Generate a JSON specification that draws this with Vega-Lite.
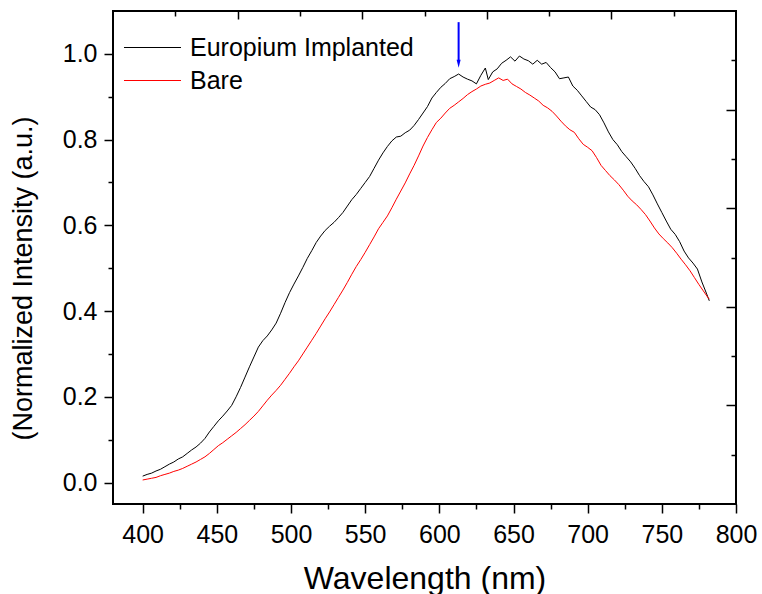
{
  "$schema": "https://vega.github.io/schema/vega-lite/v6.json",
  "width": 623,
  "height": 493,
  "autosize": "none",
  "padding": {"left": 113, "top": 11, "right": 26, "bottom": 90},
  "background": "white",
  "config": {
    "view": {"stroke": "black", "strokeWidth": 2},
    "font": "Liberation Sans",
    "axis": {"grid": false, "domain": false, "tickColor": "black", "tickWidth": 1.5, "labelColor": "black", "titleColor": "black", "labelFont": "Liberation Sans", "titleFont": "Liberation Sans", "titleFontWeight": "normal"}
  },
  "datasets": {
    "spectra": [
      {"series":"Europium Implanted","wavelength":400,"intensity":0.015},{"series":"Europium Implanted","wavelength":403,"intensity":0.019},{"series":"Europium Implanted","wavelength":406,"intensity":0.022},{"series":"Europium Implanted","wavelength":409,"intensity":0.027},{"series":"Europium Implanted","wavelength":412,"intensity":0.031},{"series":"Europium Implanted","wavelength":415,"intensity":0.037},{"series":"Europium Implanted","wavelength":418,"intensity":0.043},{"series":"Europium Implanted","wavelength":421,"intensity":0.048},{"series":"Europium Implanted","wavelength":424,"intensity":0.055},{"series":"Europium Implanted","wavelength":427,"intensity":0.060},{"series":"Europium Implanted","wavelength":430,"intensity":0.068},{"series":"Europium Implanted","wavelength":433,"intensity":0.076},{"series":"Europium Implanted","wavelength":436,"intensity":0.083},{"series":"Europium Implanted","wavelength":439,"intensity":0.092},{"series":"Europium Implanted","wavelength":442,"intensity":0.103},{"series":"Europium Implanted","wavelength":445,"intensity":0.118},{"series":"Europium Implanted","wavelength":448,"intensity":0.131},{"series":"Europium Implanted","wavelength":451,"intensity":0.144},{"series":"Europium Implanted","wavelength":454,"intensity":0.155},{"series":"Europium Implanted","wavelength":457,"intensity":0.167},{"series":"Europium Implanted","wavelength":460,"intensity":0.180},{"series":"Europium Implanted","wavelength":463,"intensity":0.200},{"series":"Europium Implanted","wavelength":466,"intensity":0.222},{"series":"Europium Implanted","wavelength":469,"intensity":0.246},{"series":"Europium Implanted","wavelength":472,"intensity":0.270},{"series":"Europium Implanted","wavelength":475,"intensity":0.293},{"series":"Europium Implanted","wavelength":478,"intensity":0.316},{"series":"Europium Implanted","wavelength":481,"intensity":0.331},{"series":"Europium Implanted","wavelength":484,"intensity":0.342},{"series":"Europium Implanted","wavelength":487,"intensity":0.356},{"series":"Europium Implanted","wavelength":490,"intensity":0.372},{"series":"Europium Implanted","wavelength":493,"intensity":0.395},{"series":"Europium Implanted","wavelength":496,"intensity":0.420},{"series":"Europium Implanted","wavelength":499,"intensity":0.443},{"series":"Europium Implanted","wavelength":502,"intensity":0.463},{"series":"Europium Implanted","wavelength":505,"intensity":0.482},{"series":"Europium Implanted","wavelength":508,"intensity":0.502},{"series":"Europium Implanted","wavelength":511,"intensity":0.523},{"series":"Europium Implanted","wavelength":514,"intensity":0.541},{"series":"Europium Implanted","wavelength":517,"intensity":0.560},{"series":"Europium Implanted","wavelength":520,"intensity":0.575},{"series":"Europium Implanted","wavelength":523,"intensity":0.588},{"series":"Europium Implanted","wavelength":526,"intensity":0.598},{"series":"Europium Implanted","wavelength":529,"intensity":0.607},{"series":"Europium Implanted","wavelength":532,"intensity":0.618},{"series":"Europium Implanted","wavelength":535,"intensity":0.630},{"series":"Europium Implanted","wavelength":538,"intensity":0.645},{"series":"Europium Implanted","wavelength":541,"intensity":0.660},{"series":"Europium Implanted","wavelength":544,"intensity":0.672},{"series":"Europium Implanted","wavelength":547,"intensity":0.686},{"series":"Europium Implanted","wavelength":550,"intensity":0.700},{"series":"Europium Implanted","wavelength":553,"intensity":0.714},{"series":"Europium Implanted","wavelength":556,"intensity":0.733},{"series":"Europium Implanted","wavelength":559,"intensity":0.752},{"series":"Europium Implanted","wavelength":562,"intensity":0.769},{"series":"Europium Implanted","wavelength":565,"intensity":0.784},{"series":"Europium Implanted","wavelength":568,"intensity":0.797},{"series":"Europium Implanted","wavelength":571,"intensity":0.806},{"series":"Europium Implanted","wavelength":574,"intensity":0.808},{"series":"Europium Implanted","wavelength":577,"intensity":0.816},{"series":"Europium Implanted","wavelength":580,"intensity":0.822},{"series":"Europium Implanted","wavelength":583,"intensity":0.833},{"series":"Europium Implanted","wavelength":586,"intensity":0.847},{"series":"Europium Implanted","wavelength":589,"intensity":0.862},{"series":"Europium Implanted","wavelength":592,"intensity":0.877},{"series":"Europium Implanted","wavelength":595,"intensity":0.897},{"series":"Europium Implanted","wavelength":598,"intensity":0.910},{"series":"Europium Implanted","wavelength":601,"intensity":0.922},{"series":"Europium Implanted","wavelength":604,"intensity":0.931},{"series":"Europium Implanted","wavelength":607,"intensity":0.942},{"series":"Europium Implanted","wavelength":610,"intensity":0.947},{"series":"Europium Implanted","wavelength":613,"intensity":0.953},{"series":"Europium Implanted","wavelength":616,"intensity":0.946},{"series":"Europium Implanted","wavelength":619,"intensity":0.941},{"series":"Europium Implanted","wavelength":622,"intensity":0.937},{"series":"Europium Implanted","wavelength":625,"intensity":0.930},{"series":"Europium Implanted","wavelength":628,"intensity":0.950},{"series":"Europium Implanted","wavelength":631,"intensity":0.967},{"series":"Europium Implanted","wavelength":633,"intensity":0.940},{"series":"Europium Implanted","wavelength":636,"intensity":0.958},{"series":"Europium Implanted","wavelength":639,"intensity":0.965},{"series":"Europium Implanted","wavelength":642,"intensity":0.978},{"series":"Europium Implanted","wavelength":645,"intensity":0.985},{"series":"Europium Implanted","wavelength":648,"intensity":0.993},{"series":"Europium Implanted","wavelength":651,"intensity":0.983},{"series":"Europium Implanted","wavelength":654,"intensity":0.995},{"series":"Europium Implanted","wavelength":657,"intensity":0.988},{"series":"Europium Implanted","wavelength":660,"intensity":0.984},{"series":"Europium Implanted","wavelength":663,"intensity":0.976},{"series":"Europium Implanted","wavelength":666,"intensity":0.985},{"series":"Europium Implanted","wavelength":669,"intensity":0.976},{"series":"Europium Implanted","wavelength":672,"intensity":0.980},{"series":"Europium Implanted","wavelength":675,"intensity":0.968},{"series":"Europium Implanted","wavelength":678,"intensity":0.958},{"series":"Europium Implanted","wavelength":681,"intensity":0.942},{"series":"Europium Implanted","wavelength":684,"intensity":0.944},{"series":"Europium Implanted","wavelength":687,"intensity":0.946},{"series":"Europium Implanted","wavelength":690,"intensity":0.925},{"series":"Europium Implanted","wavelength":693,"intensity":0.915},{"series":"Europium Implanted","wavelength":696,"intensity":0.902},{"series":"Europium Implanted","wavelength":699,"intensity":0.889},{"series":"Europium Implanted","wavelength":702,"intensity":0.876},{"series":"Europium Implanted","wavelength":705,"intensity":0.870},{"series":"Europium Implanted","wavelength":708,"intensity":0.858},{"series":"Europium Implanted","wavelength":711,"intensity":0.839},{"series":"Europium Implanted","wavelength":714,"intensity":0.818},{"series":"Europium Implanted","wavelength":717,"intensity":0.800},{"series":"Europium Implanted","wavelength":720,"intensity":0.788},{"series":"Europium Implanted","wavelength":723,"intensity":0.772},{"series":"Europium Implanted","wavelength":726,"intensity":0.760},{"series":"Europium Implanted","wavelength":729,"intensity":0.748},{"series":"Europium Implanted","wavelength":732,"intensity":0.733},{"series":"Europium Implanted","wavelength":735,"intensity":0.716},{"series":"Europium Implanted","wavelength":738,"intensity":0.702},{"series":"Europium Implanted","wavelength":741,"intensity":0.690},{"series":"Europium Implanted","wavelength":744,"intensity":0.671},{"series":"Europium Implanted","wavelength":747,"intensity":0.650},{"series":"Europium Implanted","wavelength":750,"intensity":0.630},{"series":"Europium Implanted","wavelength":753,"intensity":0.610},{"series":"Europium Implanted","wavelength":756,"intensity":0.591},{"series":"Europium Implanted","wavelength":759,"intensity":0.579},{"series":"Europium Implanted","wavelength":762,"intensity":0.562},{"series":"Europium Implanted","wavelength":765,"intensity":0.540},{"series":"Europium Implanted","wavelength":768,"intensity":0.524},{"series":"Europium Implanted","wavelength":771,"intensity":0.512},{"series":"Europium Implanted","wavelength":774,"intensity":0.498},{"series":"Europium Implanted","wavelength":777,"intensity":0.468},{"series":"Europium Implanted","wavelength":780,"intensity":0.442},{"series":"Europium Implanted","wavelength":782,"intensity":0.424},
      {"series":"Bare","wavelength":400,"intensity":0.006},{"series":"Bare","wavelength":403,"intensity":0.008},{"series":"Bare","wavelength":406,"intensity":0.010},{"series":"Bare","wavelength":409,"intensity":0.012},{"series":"Bare","wavelength":412,"intensity":0.016},{"series":"Bare","wavelength":415,"intensity":0.019},{"series":"Bare","wavelength":418,"intensity":0.022},{"series":"Bare","wavelength":421,"intensity":0.026},{"series":"Bare","wavelength":424,"intensity":0.029},{"series":"Bare","wavelength":427,"intensity":0.033},{"series":"Bare","wavelength":430,"intensity":0.038},{"series":"Bare","wavelength":433,"intensity":0.043},{"series":"Bare","wavelength":436,"intensity":0.048},{"series":"Bare","wavelength":439,"intensity":0.054},{"series":"Bare","wavelength":442,"intensity":0.060},{"series":"Bare","wavelength":445,"intensity":0.068},{"series":"Bare","wavelength":448,"intensity":0.077},{"series":"Bare","wavelength":451,"intensity":0.086},{"series":"Bare","wavelength":454,"intensity":0.093},{"series":"Bare","wavelength":457,"intensity":0.101},{"series":"Bare","wavelength":460,"intensity":0.109},{"series":"Bare","wavelength":463,"intensity":0.117},{"series":"Bare","wavelength":466,"intensity":0.126},{"series":"Bare","wavelength":469,"intensity":0.135},{"series":"Bare","wavelength":472,"intensity":0.145},{"series":"Bare","wavelength":475,"intensity":0.155},{"series":"Bare","wavelength":478,"intensity":0.166},{"series":"Bare","wavelength":481,"intensity":0.179},{"series":"Bare","wavelength":484,"intensity":0.192},{"series":"Bare","wavelength":487,"intensity":0.204},{"series":"Bare","wavelength":490,"intensity":0.215},{"series":"Bare","wavelength":493,"intensity":0.227},{"series":"Bare","wavelength":496,"intensity":0.241},{"series":"Bare","wavelength":499,"intensity":0.255},{"series":"Bare","wavelength":502,"intensity":0.270},{"series":"Bare","wavelength":505,"intensity":0.284},{"series":"Bare","wavelength":508,"intensity":0.300},{"series":"Bare","wavelength":511,"intensity":0.316},{"series":"Bare","wavelength":514,"intensity":0.332},{"series":"Bare","wavelength":517,"intensity":0.348},{"series":"Bare","wavelength":520,"intensity":0.365},{"series":"Bare","wavelength":523,"intensity":0.382},{"series":"Bare","wavelength":526,"intensity":0.398},{"series":"Bare","wavelength":529,"intensity":0.415},{"series":"Bare","wavelength":532,"intensity":0.432},{"series":"Bare","wavelength":535,"intensity":0.449},{"series":"Bare","wavelength":538,"intensity":0.467},{"series":"Bare","wavelength":541,"intensity":0.486},{"series":"Bare","wavelength":544,"intensity":0.504},{"series":"Bare","wavelength":547,"intensity":0.520},{"series":"Bare","wavelength":550,"intensity":0.537},{"series":"Bare","wavelength":553,"intensity":0.555},{"series":"Bare","wavelength":556,"intensity":0.573},{"series":"Bare","wavelength":559,"intensity":0.592},{"series":"Bare","wavelength":562,"intensity":0.607},{"series":"Bare","wavelength":565,"intensity":0.622},{"series":"Bare","wavelength":568,"intensity":0.641},{"series":"Bare","wavelength":571,"intensity":0.661},{"series":"Bare","wavelength":574,"intensity":0.680},{"series":"Bare","wavelength":577,"intensity":0.699},{"series":"Bare","wavelength":580,"intensity":0.720},{"series":"Bare","wavelength":583,"intensity":0.740},{"series":"Bare","wavelength":586,"intensity":0.762},{"series":"Bare","wavelength":589,"intensity":0.785},{"series":"Bare","wavelength":592,"intensity":0.805},{"series":"Bare","wavelength":595,"intensity":0.823},{"series":"Bare","wavelength":598,"intensity":0.840},{"series":"Bare","wavelength":601,"intensity":0.850},{"series":"Bare","wavelength":604,"intensity":0.862},{"series":"Bare","wavelength":607,"intensity":0.873},{"series":"Bare","wavelength":610,"intensity":0.880},{"series":"Bare","wavelength":613,"intensity":0.888},{"series":"Bare","wavelength":616,"intensity":0.896},{"series":"Bare","wavelength":619,"intensity":0.905},{"series":"Bare","wavelength":622,"intensity":0.912},{"series":"Bare","wavelength":625,"intensity":0.918},{"series":"Bare","wavelength":628,"intensity":0.925},{"series":"Bare","wavelength":631,"intensity":0.929},{"series":"Bare","wavelength":634,"intensity":0.932},{"series":"Bare","wavelength":637,"intensity":0.938},{"series":"Bare","wavelength":640,"intensity":0.944},{"series":"Bare","wavelength":643,"intensity":0.938},{"series":"Bare","wavelength":646,"intensity":0.941},{"series":"Bare","wavelength":649,"intensity":0.930},{"series":"Bare","wavelength":652,"intensity":0.924},{"series":"Bare","wavelength":655,"intensity":0.918},{"series":"Bare","wavelength":658,"intensity":0.910},{"series":"Bare","wavelength":661,"intensity":0.904},{"series":"Bare","wavelength":664,"intensity":0.897},{"series":"Bare","wavelength":667,"intensity":0.890},{"series":"Bare","wavelength":670,"intensity":0.880},{"series":"Bare","wavelength":673,"intensity":0.874},{"series":"Bare","wavelength":676,"intensity":0.866},{"series":"Bare","wavelength":679,"intensity":0.855},{"series":"Bare","wavelength":682,"intensity":0.843},{"series":"Bare","wavelength":685,"intensity":0.832},{"series":"Bare","wavelength":688,"intensity":0.823},{"series":"Bare","wavelength":691,"intensity":0.817},{"series":"Bare","wavelength":694,"intensity":0.802},{"series":"Bare","wavelength":697,"intensity":0.789},{"series":"Bare","wavelength":700,"intensity":0.782},{"series":"Bare","wavelength":703,"intensity":0.774},{"series":"Bare","wavelength":706,"intensity":0.758},{"series":"Bare","wavelength":709,"intensity":0.740},{"series":"Bare","wavelength":712,"intensity":0.728},{"series":"Bare","wavelength":715,"intensity":0.716},{"series":"Bare","wavelength":718,"intensity":0.706},{"series":"Bare","wavelength":721,"intensity":0.695},{"series":"Bare","wavelength":724,"intensity":0.682},{"series":"Bare","wavelength":727,"intensity":0.668},{"series":"Bare","wavelength":730,"intensity":0.657},{"series":"Bare","wavelength":733,"intensity":0.648},{"series":"Bare","wavelength":736,"intensity":0.637},{"series":"Bare","wavelength":739,"intensity":0.625},{"series":"Bare","wavelength":742,"intensity":0.610},{"series":"Bare","wavelength":745,"intensity":0.594},{"series":"Bare","wavelength":748,"intensity":0.580},{"series":"Bare","wavelength":751,"intensity":0.569},{"series":"Bare","wavelength":754,"intensity":0.559},{"series":"Bare","wavelength":757,"intensity":0.548},{"series":"Bare","wavelength":760,"intensity":0.535},{"series":"Bare","wavelength":763,"intensity":0.521},{"series":"Bare","wavelength":766,"intensity":0.508},{"series":"Bare","wavelength":769,"intensity":0.494},{"series":"Bare","wavelength":772,"intensity":0.478},{"series":"Bare","wavelength":775,"intensity":0.462},{"series":"Bare","wavelength":778,"intensity":0.447},{"series":"Bare","wavelength":781,"intensity":0.432},{"series":"Bare","wavelength":782,"intensity":0.428}
    ]
  },
  "resolve": {"axis": {"x": "independent", "y": "independent"}},
  "layer": [
    {
      "data": {"name": "spectra"},
      "transform": [{"filter": "datum.series === 'Europium Implanted'"}],
      "mark": {"type": "line", "strokeWidth": 1},
      "encoding": {
        "x": {"field": "wavelength", "type": "quantitative", "scale": {"domain": [380, 800], "nice": false, "zero": false},
          "axis": {"orient": "bottom", "values": [400, 450, 500, 550, 600, 650, 700, 750, 800], "tickSize": 9, "labelFontSize": 25, "labelBaseline": "alphabetic", "labelPadding": 29, "labelFlush": false, "labelOverlap": false, "title": "Wavelength (nm)", "titleFontSize": 32, "titleBaseline": "alphabetic", "titleY": 84}},
        "y": {"field": "intensity", "type": "quantitative", "scale": {"domain": [-0.05, 1.1], "nice": false, "zero": false},
          "axis": {"orient": "left", "values": [0, 0.2, 0.4, 0.6, 0.8, 1.0], "format": ".1f", "tickSize": 9, "labelFontSize": 25, "labelPadding": 7, "labelBaseline": "middle", "labelFlush": false, "title": "(Normalized Intensity (a.u.)", "titleFontSize": 27, "titleBaseline": "alphabetic", "titleX": -82, "titleY": 267, "titleAlign": "center", "titleAngle": 270}},
        "color": {"field": "series", "type": "nominal", "scale": {"domain": ["Europium Implanted", "Bare"], "range": ["black", "#ff0000"]},
          "legend": {"orient": "none", "legendX": 27, "legendY": 24, "title": null, "symbolType": "M-5,0L5,0", "symbolSize": 130, "symbolStrokeWidth": 1, "labelFontSize": 25, "labelOffset": 25, "labelLimit": 0, "labelFont": "Liberation Sans", "labelColor": "black", "padding": 0, "rowPadding": 7}}
      }
    },
    {
      "data": {"name": "spectra"},
      "transform": [{"filter": "datum.series === 'Bare'"}],
      "mark": {"type": "line", "strokeWidth": 1},
      "encoding": {
        "x": {"field": "wavelength", "type": "quantitative",
          "axis": {"orient": "bottom", "values": [425, 475, 525, 575, 625, 675, 725, 775], "tickSize": 5, "labels": false, "title": null}},
        "y": {"field": "intensity", "type": "quantitative",
          "axis": {"orient": "left", "values": [0.1, 0.3, 0.5, 0.7, 0.9], "tickSize": 5, "labels": false, "title": null}},
        "color": {"field": "series", "type": "nominal"}
      }
    },
    {
      "data": {"values": [{"wavelength": 613, "start": 1.074, "end": 0.985}]},
      "mark": {"type": "rule", "color": "#0000ff", "strokeWidth": 2},
      "encoding": {
        "x": {"field": "wavelength", "type": "quantitative",
          "axis": {"orient": "top", "values": [464, 548, 632, 716], "tickSize": -8, "labels": false, "title": null}},
        "y": {"field": "start", "type": "quantitative",
          "axis": {"orient": "right", "values": [0.18, 0.41, 0.64, 0.87], "tickSize": -10, "labels": false, "title": null}},
        "y2": {"field": "end"}
      }
    },
    {
      "data": {"values": [{"wavelength": 613, "tip": 0.977}]},
      "mark": {"type": "point", "filled": true, "shape": "M-0.5,-1L0.5,-1L0,1Z", "size": 64, "color": "#0000ff", "opacity": 1, "strokeWidth": 0},
      "encoding": {
        "x": {"field": "wavelength", "type": "quantitative",
          "axis": {"orient": "top", "values": [422, 506, 590, 674, 758], "tickSize": -5, "labels": false, "title": null}},
        "y": {"field": "tip", "type": "quantitative",
          "axis": {"orient": "right", "values": [0.065, 0.295, 0.525, 0.755, 0.985], "tickSize": -5, "labels": false, "title": null}}
      }
    }
  ]
}
